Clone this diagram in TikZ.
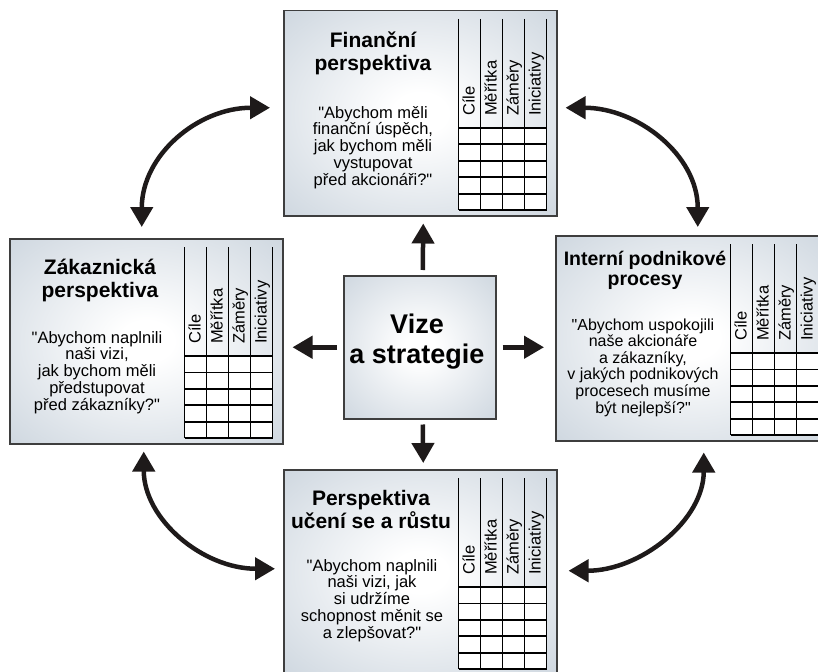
\documentclass[tikz,border=0pt]{standalone}
\usepackage{fontspec}
\setmainfont{Liberation Sans}[Ligatures=TeXOff]
\usetikzlibrary{arrows.meta,calc}

\definecolor{panelEdge}{RGB}{176,190,204}
\definecolor{frameGray}{RGB}{62,62,62}
\definecolor{arrowInk}{RGB}{30,26,26}

% soft white centre fading to a cool grey-blue rim
\pgfdeclareradialshading{panelshade}{\pgfpoint{0bp}{0bp}}{%
  color(0bp)=(white); color(5bp)=(white); color(55bp)=(panelEdge); color(72bp)=(panelEdge)}

\tikzset{
  panel/.style={draw=frameGray, line width=1.5pt, shading=panelshade,
    minimum width=273pt, minimum height=205pt, inner sep=0pt, anchor=north west},
  core/.style={draw=frameGray, line width=1.5pt, shading=panelshade,
    minimum width=152pt, minimum height=143pt, inner sep=0pt, anchor=north west},
  gridline/.style={draw=black, line width=1.8pt},
  collabel/.style={rotate=90, anchor=base west, inner sep=0pt,
    font=\fontsize{16.5}{16.5}\selectfont},
  % multi-line texts are placed by the baseline of their last line
  ptitle/.style={anchor=base, align=center, inner sep=0pt,
    font=\fontsize{21}{23}\selectfont\bfseries},
  pquote/.style={anchor=base, align=center, inner sep=0pt,
    font=\fontsize{16.5}{16.7}\selectfont},
  bigarrow/.style={draw=arrowInk, line width=4.5pt,
    -{Triangle[length=20pt,width=22pt]}},
  swing/.style={draw=arrowInk, line width=4.5pt,
    {Triangle[length=20pt,width=22pt]}-{Triangle[length=20pt,width=22pt]}},
}

% goal / measure / target / initiative grid at the right of a panel
\newcommand\scorecard[1]{%
  \begin{scope}[shift={(#1.north west)}]
    \fill[white] (175.5,118) rectangle (263.5,200);
    \foreach \c in {175.5,197.5,219.5,241.5,263.5}
      \draw[gridline] (\c,9) -- (\c,200);
    \foreach \r in {118,134.4,150.8,167.2,183.6,200}
      \draw[gridline] (175.5,\r) -- (263.5,\r);
    \node[collabel] (#1-c1) at (191.5,106) {Cíle};
    \node[collabel] (#1-c2) at (213.5,106) {Měřítka};
    \node[collabel] (#1-c3) at (235.5,106) {Záměry};
    \node[collabel] (#1-c4) at (257.5,106) {Iniciativy};
  \end{scope}}

\begin{document}
\begin{tikzpicture}[x=1pt,y=-1pt]
\useasboundingbox (0,0) rectangle (818,671);

% the four perspectives and the core
\node[panel] (fin) at (283,10) {};
\node[panel] (zak) at (9,238) {};
\node[panel] (int) at (555,235) {};
\node[panel] (uc)  at (283,469) {};
\node[core]  (vize) at (343,275) {};

\scorecard{fin}
\scorecard{zak}
\scorecard{int}
\scorecard{uc}

% texts
\node[ptitle] (fin-t) at (373,71) {Finanční\\perspektiva};
\node[pquote] (fin-q) at (373,185) {"Abychom měli\\finanční úspěch,\\jak bychom měli\\vystupovat\\před akcionáři?"};

\node[ptitle] (zak-t) at (100,297.7) {Zákaznická\\perspektiva};
\node[pquote] (zak-q) at (97,410) {"Abychom naplnili\\naši vizi,\\jak bychom měli\\předstupovat\\před zákazníky?"};

\node[ptitle, font=\fontsize{19.5}{20}\selectfont\bfseries] (int-t) at (645,285) {Interní podnikové\\procesy};
\node[pquote, font=\fontsize{16}{16.6}\selectfont] (int-q) at (643,413) {"Abychom uspokojili\\naše akcionáře\\a zákazníky,\\v jakých podnikových\\procesech musíme\\být nejlepší?"};

\node[ptitle] (uc-t) at (371,528) {Perspektiva\\učení se a růstu};
\node[pquote] (uc-q) at (372,638) {"Abychom naplnili\\naši vizi, jak\\si udržíme\\schopnost měnit se\\a zlepšovat?"};

\node[ptitle, font=\fontsize{27}{30}\selectfont\bfseries] (vize-t) at (417,363) {Vize\\a strategie};

% straight arrows out of the core
\draw[bigarrow] ($(vize.north)+(3,-5)$) -- ($(fin.south)+(3,7)$);
\draw[bigarrow] ($(vize.west)+(-6,0)$) -- ($(vize.west -| zak.east)+(9,0)$);
\draw[bigarrow] ($(vize.east)+(6,0)$) -- ($(vize.east -| int.west)+(-11,0)$);
\draw[bigarrow] ($(vize.south)+(3,5)$) -- ($(uc.north)+(3,-6)$);

% two-way links between neighbouring perspectives
\draw[swing] ($(fin.west)+(-13,-5.5)$) .. controls +(-72,0) and +(0,-72) .. ($(zak.north)+(-4.5,-11)$);
\draw[swing] ($(fin.east)+(8,-5.5)$) .. controls +(72,0) and +(0,-72) .. ($(int.north)+(5.5,-8)$);
\draw[swing] ($(zak.south)+(-2.5,7)$) .. controls +(0,68) and +(-72,0) .. ($(uc.west)+(-8,-3.5)$);
\draw[swing] ($(int.south)+(11.5,11)$) .. controls +(0,68) and +(72,0) .. ($(uc.east)+(11,-1.5)$);
\end{tikzpicture}
\end{document}
